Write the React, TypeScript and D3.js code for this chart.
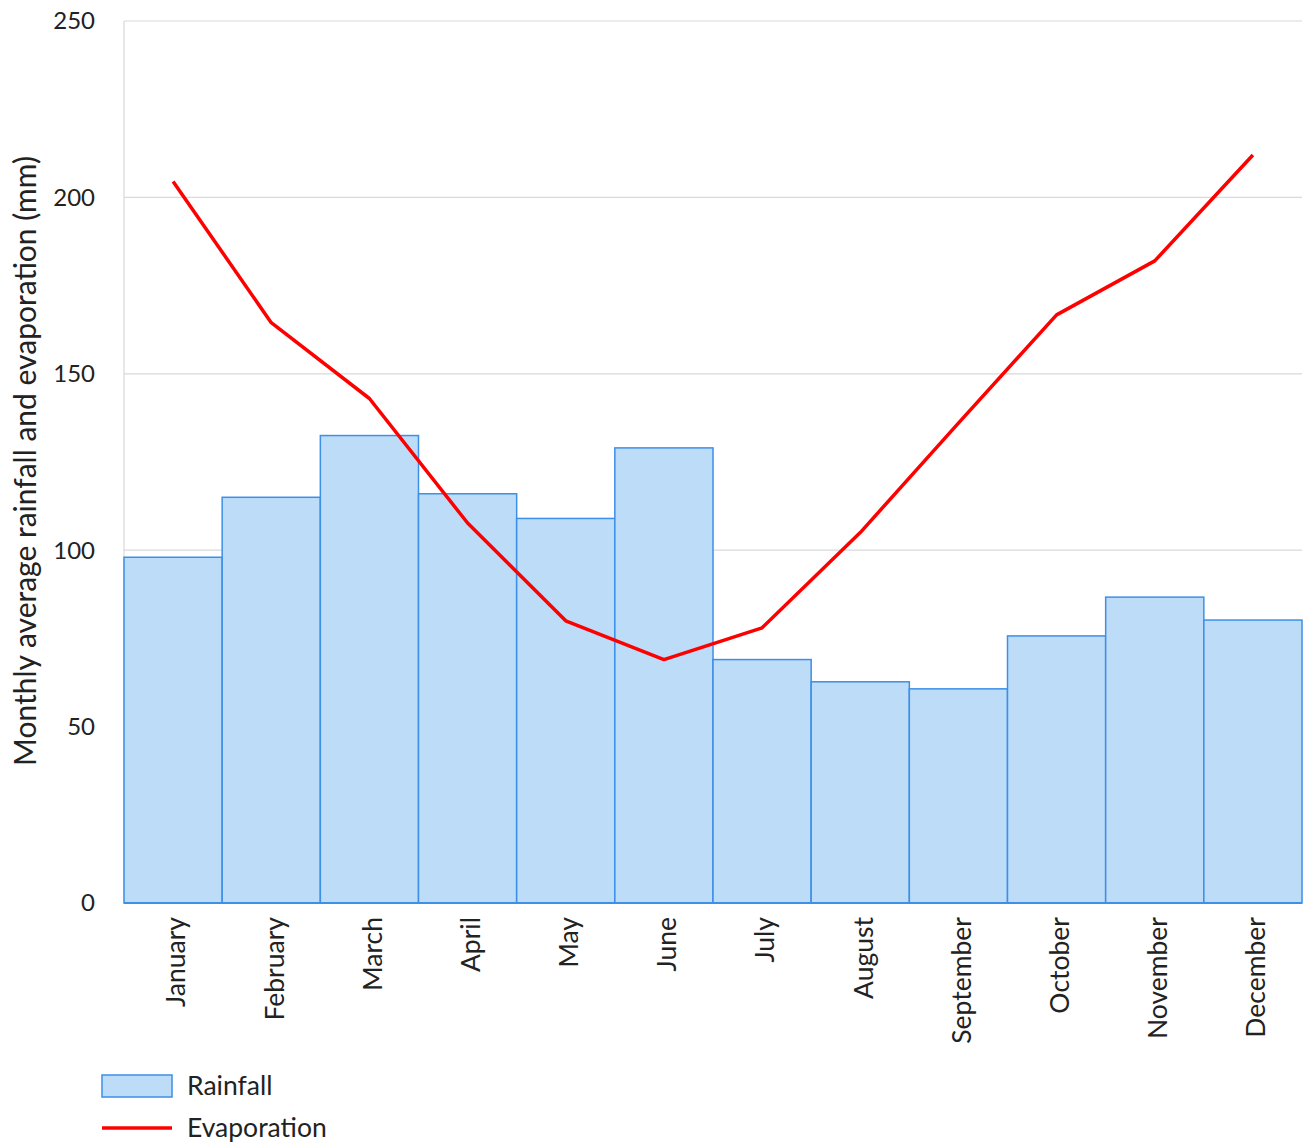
import React from "react";
import * as d3 from "d3";

const months = ["January","February","March","April","May","June","July","August","September","October","November","December"];
const rainfall = [98, 115, 132.5, 116, 109, 129, 69, 62.7, 60.7, 75.7, 86.7, 80.2];
const evaporation = [204.5, 164.5, 143, 107.7, 80, 69, 78, 105, 136, 166.7, 182, 212];
const yTicks = [0, 50, 100, 150, 200, 250];

const W = 1311, H = 1147;
const left = 124, right = 1302, top = 21, bottom = 903;
const font = "Lato, 'Open Sans', sans-serif";

export default function App() {
  const x = d3.scaleBand<string>().domain(months).range([left, right]).padding(0);
  const y = d3.scaleLinear().domain([0, 250]).range([bottom, top]);
  const line = d3.line<number>()
    .x((_, i) => (x(months[i]) as number) + x.bandwidth() / 2)
    .y(d => y(d));
  return (
    <svg width={W} height={H} style={{ position: "absolute", left: 0, top: 0, background: "#fff" }}>
      {yTicks.filter(t => t > 0).map(t => (
        <line key={t} x1={left} x2={right} y1={y(t)} y2={y(t)} stroke="#d9d9d9" strokeWidth={1.2} />
      ))}
      <line x1={left} x2={left} y1={top} y2={bottom} stroke="#d9d9d9" strokeWidth={1.2} />
      {yTicks.map(t => (
        <text key={t} x={95} y={y(t)} dy="0.35em" textAnchor="end" fontFamily={font} fontSize={24} fill="#222">{t}</text>
      ))}
      {rainfall.map((v, i) => (
        <rect key={i} x={x(months[i]) as number} y={y(v)} width={x.bandwidth()} height={bottom - y(v)}
          fill="#bcdcf8" stroke="#3d8fe8" strokeWidth={1.5} />
      ))}
      <line x1={left} x2={right} y1={bottom} y2={bottom} stroke="#3d8fe8" strokeWidth={2} />
      <path d={line(evaporation) || ""} fill="none" stroke="#ff0000" strokeWidth={3.5} strokeLinejoin="round" />
      {months.map(m => {
        const cx = (x(m) as number) + x.bandwidth() / 2 + 3;
        return (
          <text key={m} transform={`translate(${cx},${917}) rotate(-90)`} textAnchor="end" dy="0.35em"
            fontFamily={font} fontSize={26.5} fill="#222">{m}</text>
        );
      })}
      <text transform={`translate(25,${461}) rotate(-90)`} textAnchor="middle" dy="0.35em"
        fontFamily={font} fontSize={30} fill="#222">Monthly average rainfall and evaporation (mm)</text>
      <rect x={102} y={1075} width={70} height={22} fill="#bcdcf8" stroke="#3d8fe8" strokeWidth={1.5} />
      <text x={187} y={1086} dy="0.35em" fontFamily={font} fontSize={26.5} fill="#222">Rainfall</text>
      <line x1={102} x2={172} y1={1128} y2={1128} stroke="#ff0000" strokeWidth={3.5} />
      <text x={187} y={1128} dy="0.35em" fontFamily={font} fontSize={26.5} fill="#222">Evaporation</text>
    </svg>
  );
}
